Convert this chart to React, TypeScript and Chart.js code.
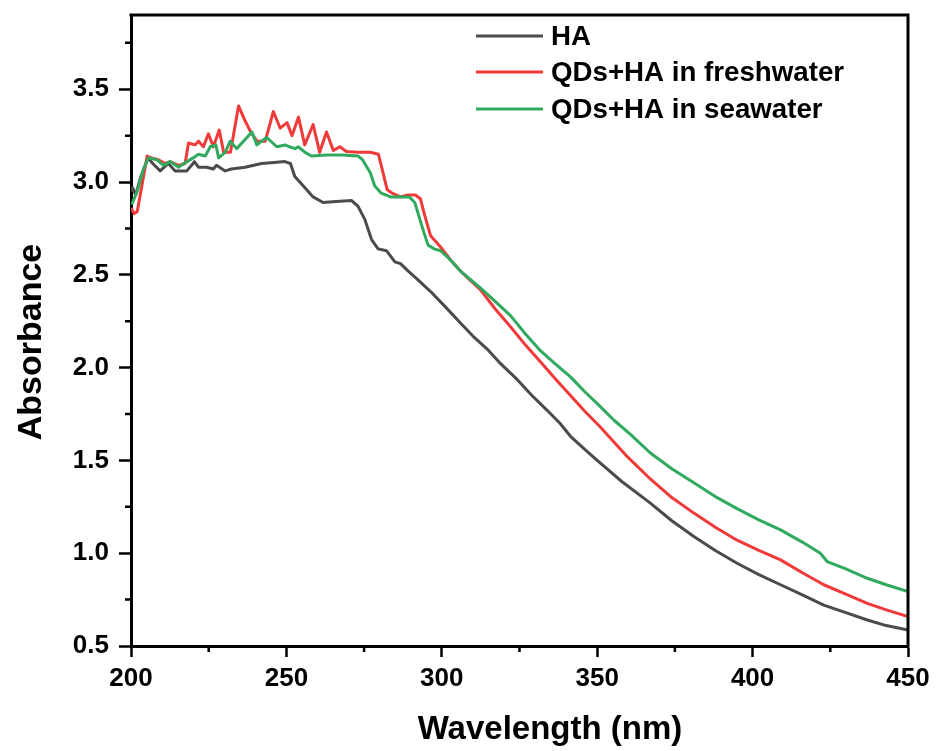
import React, { useEffect, useRef } from "react";
import { Chart, registerables } from "chart.js";

Chart.register(...registerables);

// ---------- data ----------
const seriesLabels = ["HA", "QDs+HA in freshwater", "QDs+HA in seawater"];

const haWavelength = [
  200, 200.5, 201.5, 203, 205.5, 207, 209.4, 212, 214.2, 217.9, 219.5, 220.4, 221.7, 224.3, 226.5, 227.5,
  230.3, 232.3, 236.7, 242, 246, 249.5, 251.3, 252.7, 255.4, 258.6, 261.8, 266, 271, 273, 275.2, 277.4,
  279.5, 282.2, 284.9, 286.7, 289.2, 291.9, 296.4, 301, 306, 310, 314.6, 319, 324.3, 329, 333.9, 338,
  341.4, 346, 350, 358, 367.1, 374, 381.1, 388, 395, 402, 409, 416, 422.9, 430, 436.9, 443, 450,
];
const haAbsorbance = [
  2.95, 2.97, 2.93, 3.02, 3.13, 3.1, 3.06, 3.1, 3.06, 3.06, 3.09, 3.11, 3.08, 3.08, 3.07, 3.09,
  3.06, 3.07, 3.08, 3.1, 3.105, 3.11, 3.1, 3.03, 2.98, 2.92, 2.89, 2.895, 2.9, 2.87, 2.8, 2.69,
  2.64, 2.63, 2.57, 2.56, 2.52, 2.48, 2.41, 2.33, 2.24, 2.17, 2.1, 2.02, 1.935, 1.85, 1.77, 1.7,
  1.63, 1.56, 1.5, 1.385, 1.27, 1.175, 1.09, 1.015, 0.946, 0.885, 0.83, 0.775, 0.72, 0.68, 0.64, 0.61, 0.586,
];

const freshWavelength = [
  200, 201, 202, 203.5, 205.2, 206.5, 208.8, 211, 212.6, 215.3, 217.4, 218.5, 220.6, 221.7, 223.3, 224.9,
  226.5, 228.4, 229.8, 232, 234.6, 236.7, 238.5, 240.5, 243.2, 245.8, 248, 250.2, 251.8, 253.9, 255.9, 258.6,
  260.7, 262.9, 265.1, 267.2, 269.3, 273, 277, 279.6, 280.8, 282.4, 284, 286.7, 289, 291.5, 293.1, 294.5,
  296.4, 299.6, 302.8, 306, 312.4, 317, 322.1, 327, 331.8, 336.5, 341.4, 346, 351, 359.1, 367.1, 374,
  381.1, 388, 395, 402, 409, 416, 422.9, 430, 436.9, 443, 450,
];
const freshAbsorbance = [
  2.86, 2.83, 2.84, 2.98, 3.14, 3.13, 3.12, 3.1, 3.11, 3.09, 3.1, 3.21, 3.2, 3.22, 3.19, 3.26,
  3.19, 3.28, 3.16, 3.16, 3.41, 3.33, 3.27, 3.22, 3.22, 3.38, 3.29, 3.32, 3.25, 3.35, 3.2, 3.31,
  3.16, 3.27, 3.17, 3.19, 3.165, 3.16, 3.16, 3.15, 3.07, 2.96, 2.94, 2.92, 2.93, 2.93, 2.91, 2.82,
  2.71, 2.65, 2.58, 2.52, 2.42, 2.32, 2.22, 2.12, 2.03, 1.94, 1.85, 1.765, 1.68, 1.53, 1.4, 1.3,
  1.216, 1.14, 1.07, 1.015, 0.964, 0.895, 0.83, 0.78, 0.73, 0.695, 0.658,
];

const seaWavelength = [
  200, 200.5, 202, 204, 205.6, 208.3, 210.5, 212.6, 215.3, 218, 220, 221.7, 223.9, 225.5, 227.3, 228.2,
  230.3, 231.9, 234, 236.2, 238.9, 240.5, 242, 243.7, 246.9, 249.6, 251, 252.8, 253.8, 256, 258.1, 263,
  268, 273.1, 274.5, 275.2, 277, 278.4, 280.5, 283.5, 286, 289.5, 291.3, 292.4, 294.2, 295.6, 297.5, 299.6,
  302.8, 306, 312.4, 317, 322.1, 327, 331.8, 336.5, 341.4, 346, 351, 355.5, 360.7, 367.1, 374, 381.1,
  388, 395, 402, 409, 416, 421.8, 424, 430, 436.9, 443, 450,
];
const seaAbsorbance = [
  2.88, 2.89, 2.95, 3.07, 3.13, 3.12, 3.09, 3.11, 3.08, 3.11, 3.13, 3.15, 3.14, 3.19, 3.2, 3.13,
  3.16, 3.22, 3.18, 3.22, 3.27, 3.2, 3.22, 3.24, 3.19, 3.2, 3.19, 3.18, 3.19, 3.16, 3.14, 3.145,
  3.145, 3.14, 3.12, 3.1, 3.05, 2.98, 2.94, 2.92, 2.92, 2.92, 2.89, 2.83, 2.73, 2.66, 2.64, 2.63,
  2.58, 2.52, 2.43, 2.36, 2.28, 2.18, 2.09, 2.02, 1.95, 1.87, 1.79, 1.715, 1.64, 1.54, 1.455, 1.38,
  1.305, 1.24, 1.18, 1.126, 1.06, 1.0, 0.955, 0.915, 0.865, 0.83, 0.793,
];

const xMajorTicks = [200, 250, 300, 350, 400, 450];
const xMinorTicks = [225, 275, 325, 375, 425];
const yMajorTicks = [0.5, 1.0, 1.5, 2.0, 2.5, 3.0, 3.5];
const yMinorTicks = [0.75, 1.25, 1.75, 2.25, 2.75, 3.25, 3.75];

const xTitle = "Wavelength (nm)";
const yTitle = "Absorbance";

// ---------- styles ----------
const FONT = '"Liberation Sans", Arial, Helvetica, sans-serif';
const COLORS = ["#4b4b4b", "#f03a3a", "#2faa5f"];

const toPoints = (xs: number[], ys: number[]) => xs.map((x, i) => ({ x, y: ys[i] }));

const decorPlugin = {
  id: "decor",
  afterDraw(chart: any) {
    const { ctx, chartArea, scales } = chart;
    const { left, right, top, bottom } = chartArea;
    ctx.save();
    ctx.strokeStyle = "#000";
    ctx.lineCap = "butt";
    // frame top and right
    ctx.lineWidth = 3;
    ctx.beginPath();
    ctx.moveTo(left - 1.5, top);
    ctx.lineTo(right, top);
    ctx.lineTo(right, bottom + 1.5);
    ctx.stroke();
    // minor ticks
    ctx.lineWidth = 2.5;
    ctx.beginPath();
    xMinorTicks.forEach((v) => {
      const px = scales.x.getPixelForValue(v);
      ctx.moveTo(px, bottom);
      ctx.lineTo(px, bottom + 6);
    });
    yMinorTicks.forEach((v) => {
      const py = scales.y.getPixelForValue(v);
      ctx.moveTo(left, py);
      ctx.lineTo(left - 6, py);
    });
    ctx.stroke();

    // axis titles
    ctx.fillStyle = "#000";
    ctx.font = `bold 33px ${FONT}`;
    ctx.textAlign = "center";
    ctx.textBaseline = "alphabetic";
    ctx.fillText(xTitle, 550, 739);
    ctx.save();
    ctx.translate(41, 342);
    ctx.rotate(-Math.PI / 2);
    ctx.font = `bold 34px ${FONT}`;
    ctx.fillText(yTitle, 0, 0);
    ctx.restore();

    // legend
    const rows = [36, 72, 109];
    ctx.font = `bold 27.7px ${FONT}`;
    ctx.textAlign = "left";
    ctx.textBaseline = "middle";
    seriesLabels.forEach((lab, i) => {
      ctx.strokeStyle = COLORS[i];
      ctx.lineWidth = 3;
      ctx.beginPath();
      ctx.moveTo(476, rows[i]);
      ctx.lineTo(543, rows[i]);
      ctx.stroke();
      ctx.fillStyle = "#000";
      ctx.fillText(lab, 551, rows[i] + 1);
    });
    ctx.restore();
  },
};

export default function App() {
  const canvasRef = useRef<HTMLCanvasElement | null>(null);

  useEffect(() => {
    document.body.style.margin = "0";
    const canvas = canvasRef.current;
    if (!canvas) return;
    const mk = (xs: number[], ys: number[], i: number, order: number) => ({
      label: seriesLabels[i],
      data: toPoints(xs, ys),
      borderColor: COLORS[i],
      backgroundColor: COLORS[i],
      borderWidth: 3,
      pointRadius: 0,
      tension: 0,
      borderJoinStyle: "round" as const,
      order,
    });
    const chart = new Chart(canvas, {
      type: "line",
      data: {
        datasets: [
          mk(haWavelength, haAbsorbance, 0, 2),
          mk(freshWavelength, freshAbsorbance, 1, 1),
          mk(seaWavelength, seaAbsorbance, 2, 0),
        ],
      },
      options: {
        responsive: false,
        animation: false,
        devicePixelRatio: 1,
        layout: { padding: { left: 0, right: 28, top: 15, bottom: 0 } },
        plugins: { legend: { display: false }, tooltip: { enabled: false } },
        scales: {
          x: {
            type: "linear",
            min: 200,
            max: 450,
            afterFit: (s: any) => {
              s.height = 105;
              s.paddingLeft = 0;
              s.paddingRight = 0;
            },
            afterBuildTicks: (s: any) => {
              s.ticks = xMajorTicks.map((v) => ({ value: v }));
            },
            ticks: {
              color: "#000",
              font: { family: FONT, size: 26, weight: "bold" },
              padding: 6,
              maxRotation: 0,
              callback: (v: any) => String(v),
            },
            grid: {
              drawOnChartArea: false,
              drawTicks: true,
              tickLength: 11,
              tickWidth: 2.5,
              tickColor: "#000",
            },
            border: { display: true, color: "#000", width: 3 },
          },
          y: {
            type: "linear",
            min: 0.5,
            max: 3.9,
            afterFit: (s: any) => {
              s.width = 131;
              s.paddingTop = 0;
              s.paddingBottom = 0;
            },
            afterBuildTicks: (s: any) => {
              s.ticks = yMajorTicks.map((v) => ({ value: v }));
            },
            ticks: {
              color: "#000",
              font: { family: FONT, size: 26, weight: "bold" },
              padding: 10,
              callback: (v: any) => Number(v).toFixed(1),
            },
            grid: {
              drawOnChartArea: false,
              drawTicks: true,
              tickLength: 12,
              tickWidth: 2.5,
              tickColor: "#000",
            },
            border: { display: true, color: "#000", width: 3 },
          },
        },
      },
      plugins: [decorPlugin],
    });
    return () => chart.destroy();
  }, []);

  return (
    <div style={{ width: 936, height: 751, background: "#fff" }}>
      <canvas ref={canvasRef} width={936} height={751} style={{ display: "block" }} />
    </div>
  );
}
